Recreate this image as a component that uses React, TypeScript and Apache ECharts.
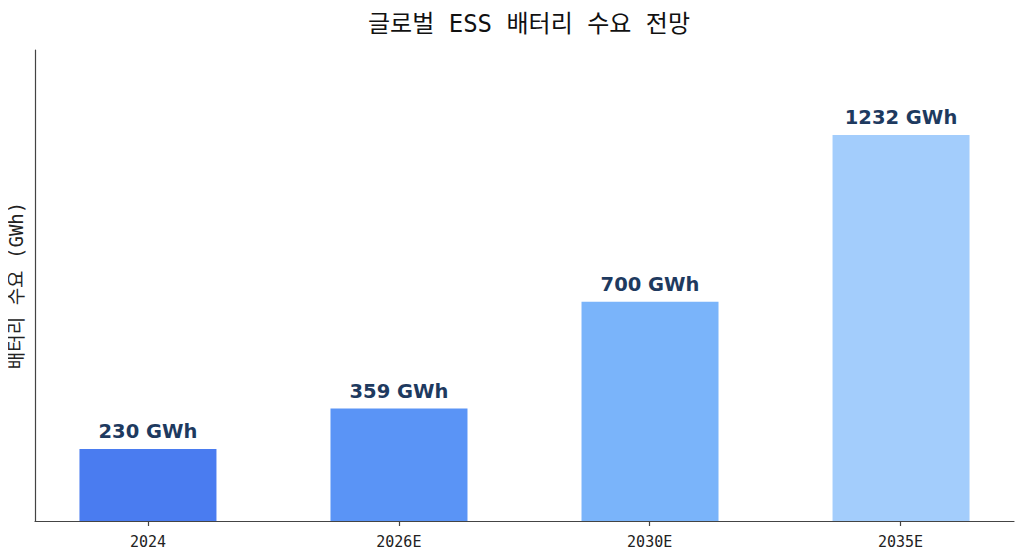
import React, { useEffect, useRef } from 'react';
import * as echarts from 'echarts';

// 데이터
const categories = ['2024', '2026E', '2030E', '2035E'];
const demand = [230, 359, 700, 1232];
const barColors = ['#4a7cf0', '#5a94f6', '#7ab4fa', '#a3cdfc'];

const monoFont = '"DejaVu Sans Mono", "Noto Sans CJK KR", monospace';
const axisColor = '#444444';

const App: React.FC = () => {
  const chartRef = useRef<HTMLDivElement>(null);

  useEffect(() => {
    if (!chartRef.current) return;
    const chart = echarts.init(chartRef.current, undefined, { renderer: 'svg' });

    const option = {
      animation: false,
      backgroundColor: '#ffffff',
      title: {
        text: '글로벌 ESS 배터리 수요 전망',
        left: 524,
        textAlign: 'center',
        top: 7,
        textStyle: {
          fontFamily: monoFont,
          fontSize: 24,
          fontWeight: 'normal',
          color: '#111111',
        },
      },
      grid: [
        // 막대 + 축선
        { left: 35, width: 979, top: 50, bottom: 39, outerBoundsMode: 'none' },
        // 눈금 + 카테고리 라벨
        { left: 22.6, width: 1003.3, top: 50, bottom: 39, outerBoundsMode: 'none' },
      ],
      xAxis: [
        {
          type: 'value',
          gridIndex: 0,
          min: -0.45,
          max: 3.45,
          splitLine: { show: false },
          axisLine: { show: true, onZero: false, lineStyle: { color: axisColor, width: 1.2 } },
          axisTick: { show: false },
          axisLabel: { show: false },
        },
        {
          type: 'category',
          gridIndex: 1,
          data: categories,
          boundaryGap: true,
          axisLine: { show: true, onZero: false, lineStyle: { color: axisColor, opacity: 0 } },
          axisTick: {
            show: true,
            alignWithLabel: true,
            length: 5,
            lineStyle: { color: axisColor, width: 1.2, opacity: 1 },
          },
          axisLabel: {
            fontFamily: monoFont,
            fontSize: 15,
            color: '#222222',
            margin: 13,
          },
        },
      ],
      yAxis: [
        {
          type: 'value',
          gridIndex: 0,
          min: 0,
          max: 1503,
          name: '배터리 수요 (GWh)',
          nameLocation: 'middle',
          nameGap: 10,
          nameTextStyle: { fontFamily: monoFont, fontSize: 19, color: '#222222' },
          splitLine: { show: false },
          axisLine: { show: true, onZero: false, lineStyle: { color: axisColor, width: 1.2 } },
          axisTick: { show: false },
          axisLabel: { show: false },
        },
        {
          type: 'value',
          gridIndex: 1,
          min: 0,
          max: 1503,
          splitLine: { show: false },
          axisLine: { show: false },
          axisTick: { show: false },
          axisLabel: { show: false },
        },
      ],
      series: [
        {
          type: 'bar',
          xAxisIndex: 0,
          yAxisIndex: 0,
          barWidth: 137,
          data: demand.map((v, i) => ({
            value: [i, v],
            itemStyle: { color: barColors[i] },
          })),
          label: {
            show: true,
            position: 'top',
            distance: 7,
            formatter: (p: any) => `${p.value[1]} GWh`,
            fontFamily: '"DejaVu Sans", sans-serif',
            fontWeight: 'bold',
            fontSize: 19.5,
            color: '#1e3a5f',
          },
        },
      ],
    };

    chart.setOption(option);
    return () => chart.dispose();
  }, []);

  return <div ref={chartRef} style={{ width: 1024, height: 560, margin: -8 }} />;
};

export default App;
